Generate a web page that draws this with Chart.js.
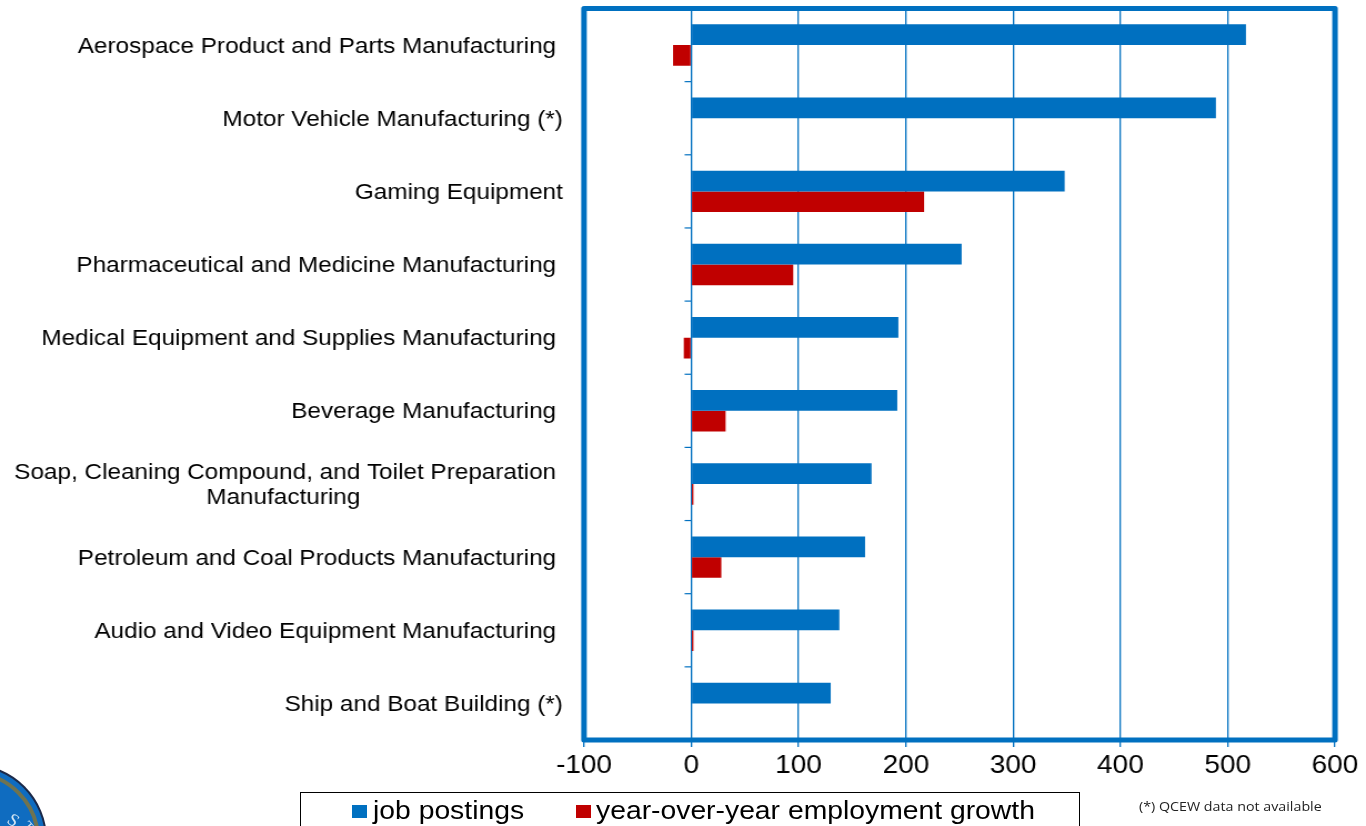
<!DOCTYPE html>
<html lang="en">
<head>
    <meta charset="UTF-8">
    <title>Job postings by industry</title>
    <script src="https://cdn.jsdelivr.net/npm/chart.js"></script>
    <style>
        html, body { margin: 0; padding: 0; background: #fff; overflow: hidden; }
        #wrap { position: relative; width: 1366px; height: 826px; overflow: hidden; }
        /* the whole reference is stretched sideways, so the canvas is too */
        #chart { position: absolute; left: 0; top: 0; transform-origin: 0 0; }
        #legendBox {
            position: absolute; left: 300px; top: 792px; width: 778px; height: 50px;
            border: 1px solid #000;
            font: 25.5px "Liberation Sans", sans-serif; color: #000;
        }
        #legendBox span { position: absolute; top: 3px; white-space: nowrap; transform: scaleX(1.11); transform-origin: 0 0; }
        #legendBox i { position: absolute; top: 12px; width: 15px; height: 13px; }
        #note {
            position: absolute; left: 1139px; top: 798px;
            font: 12.2px "Open Sans", sans-serif; color: #222; white-space: nowrap;
            transform: scaleX(1.17); transform-origin: 0 0;
        }
        #seal { position: absolute; left: 0; top: 746px; }
    </style>
</head>
<body>
    <div id="wrap">
        <canvas id="chart" width="1230" height="826"></canvas>
        <svg id="seal" width="60" height="80">
            <circle cx="-29" cy="94" r="76" fill="#1c2a4a"/>
            <circle cx="-29" cy="94" r="74" fill="#0f6cc0"/>
            <circle cx="-29" cy="94" r="67" fill="none" stroke="#6f7350" stroke-width="4"/>
            <text x="6" y="76" fill="#cfe3f2" font-family="Liberation Serif" font-size="18" transform="rotate(35 6 76)">S</text>
            <text x="22" y="80" fill="#cfe3f2" font-family="Liberation Serif" font-size="14" transform="rotate(50 22 80)">T</text>
        </svg>
        <div id="legendBox">
            <i id="swatch1" style="left:51px"></i><span style="left:72px">job postings</span>
            <i id="swatch2" style="left:275px"></i><span style="left:295px">year-over-year employment growth</span>
        </div>
        <div id="note">(*) QCEW data not available</div>
    </div>

    <script>
        const categories = [
            'Aerospace Product and Parts Manufacturing ',
            'Motor Vehicle Manufacturing (*)',
            'Gaming Equipment',
            'Pharmaceutical and Medicine Manufacturing ',
            'Medical Equipment and Supplies Manufacturing ',
            'Beverage Manufacturing ',
            ['Soap, Cleaning Compound, and Toilet Preparation ', 'Manufacturing' + ' '.repeat(30)],
            'Petroleum and Coal Products Manufacturing ',
            'Audio and Video Equipment Manufacturing ',
            'Ship and Boat Building (*)'
        ];
        const jobPostings = [517, 489, 348, 252, 193, 192, 168, 162, 138, 130];
        const employmentGrowth = [-17, null, 217, 95, -7, 32, 2, 28, 2, null];
        const xTicks = [-100, 0, 100, 200, 300, 400, 500, 600];

        const BLUE = '#0070C0';
        const RED = '#C00000';
        const STRETCH = 1366 / 1230;

        document.getElementById('chart').style.transform = 'scaleX(' + STRETCH + ')';
        document.getElementById('swatch1').style.background = BLUE;
        document.getElementById('swatch2').style.background = RED;

        // thick frame round the plot, and the small marks between categories on the zero line
        const plotFrame = {
            id: 'plotFrame',
            afterDraw(chart) {
                const a = chart.chartArea;
                const c = chart.ctx;
                const zero = chart.scales.x.getPixelForValue(0);
                c.save();
                c.strokeStyle = BLUE;
                c.lineWidth = 1.2;
                categories.slice(1).forEach((name, i) => {
                    const y = chart.scales.y.getPixelForValue(i + 0.5);
                    c.beginPath();
                    c.moveTo(zero - 6, y);
                    c.lineTo(zero, y);
                    c.stroke();
                });
                c.lineWidth = 5;
                c.lineJoin = 'round';
                c.strokeRect(a.left, a.top, a.right - a.left, a.bottom - a.top);
                c.restore();
            }
        };

        new Chart(document.getElementById('chart'), {
            type: 'bar',
            data: {
                labels: categories,
                datasets: [
                    { label: 'job postings', data: jobPostings, backgroundColor: BLUE },
                    { label: 'year-over-year employment growth', data: employmentGrowth, backgroundColor: RED }
                ]
            },
            options: {
                indexAxis: 'y',
                responsive: false,
                animation: false,
                devicePixelRatio: 1,
                layout: { padding: { left: 0, top: 8.5, right: 31 / STRETCH, bottom: 0 } },
                datasets: { bar: { categoryPercentage: 0.567, barPercentage: 1 } },
                plugins: { legend: { display: false }, tooltip: { enabled: false } },
                scales: {
                    x: {
                        type: 'linear',
                        min: -100,
                        max: 600,
                        afterBuildTicks(axis) { axis.ticks = xTicks.map(v => ({ value: v })); },
                        afterFit(axis) { axis.height = 86; },
                        grid: { color: BLUE, lineWidth: 1.3, tickLength: 7 },
                        border: { color: BLUE, width: 1.3 },
                        ticks: {
                            color: '#000',
                            padding: 4,
                            maxRotation: 0,
                            font: { family: 'Liberation Sans', size: 25.2 }
                        }
                    },
                    y: {
                        // label padding would otherwise push the plot top down
                        afterFit(axis) {
                            axis.width = 584 / STRETCH;
                            axis.paddingTop = 0;
                            axis.paddingBottom = 0;
                        },
                        grid: { display: false, drawTicks: false },
                        border: { display: false },
                        ticks: {
                            color: '#000',
                            padding: 19,
                            labelOffset: 1.5,
                            autoSkip: false,
                            font: { family: 'Liberation Sans', size: 21.9, lineHeight: 1.1 }
                        }
                    }
                }
            },
            plugins: [plotFrame]
        });
    </script>
</body>
</html>
